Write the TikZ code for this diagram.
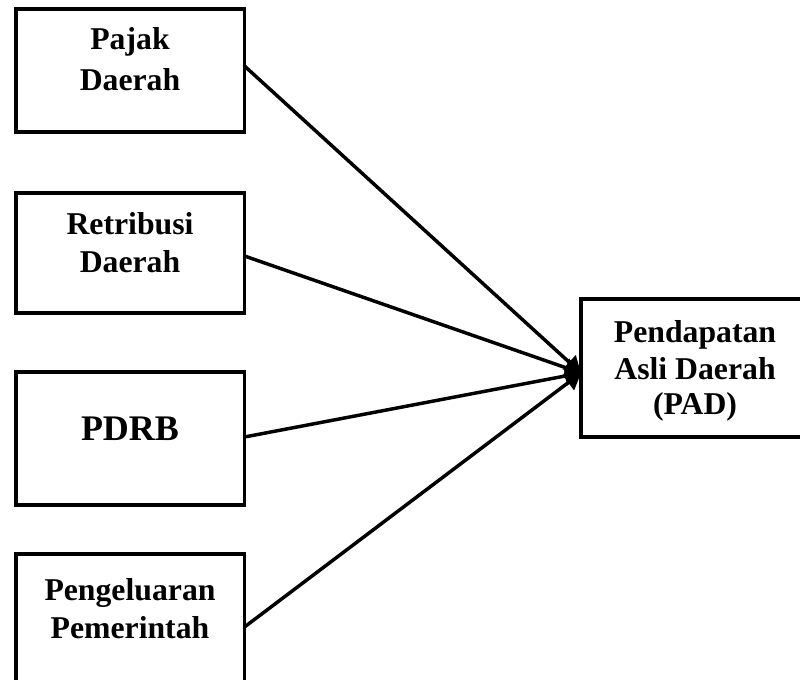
\documentclass[tikz,border=0pt]{standalone}
\usepackage{fontspec}
\setmainfont{Liberation Serif}
\usetikzlibrary{arrows.meta,calc}
\tikzset{
  box/.style={draw=black, line width=2.9pt, rectangle, inner sep=0pt, outer sep=0pt},
  lbl/.style={font=\bfseries\fontsize{23.8}{28}\selectfont, anchor=base, inner sep=0pt},
  big/.style={font=\bfseries\fontsize{27}{32}\selectfont, anchor=base, inner sep=0pt},
  link/.style={line width=2.6pt, -{Triangle[length=12pt,width=14pt]}}
}
\begin{document}
\begin{tikzpicture}[x=0.75pt,y=-0.75pt]
\useasboundingbox (0,0) rectangle (800,680);
% boxes
\node[box, minimum width={228.5*0.75pt}, minimum height={123*0.75pt}] (b1) at (130.25,70.5) {};
\node[box, minimum width={228.5*0.75pt}, minimum height={120*0.75pt}] (b2) at (130.25,253) {};
\node[box, minimum width={228.5*0.75pt}, minimum height={133*0.75pt}] (b3) at (130.25,438.5) {};
\node[box, minimum width={228.5*0.75pt}, minimum height={136*0.75pt}] (b4) at (130.25,622) {};
\node[box, minimum width={227*0.75pt}, minimum height={138*0.75pt}] (pad) at (694.5,368) {};
% texts
\node[lbl] (t1a) at (130,50) {Pajak};
\node[lbl] (t1b) at (130,90.5) {Daerah};
\node[lbl] (t2a) at (130,234.3) {Retribusi};
\node[lbl] (t2b) at (130,272.3) {Daerah};
\node[big] (t3) at (130,441) {PDRB};
\node[lbl] (t4a) at (130,600.5) {Pengeluaran};
\node[lbl] (t4b) at (130,638.3) {Pemerintah};
\node[lbl] (tpa) at (695,342.3) {Pendapatan};
\node[lbl] (tpb) at (695,380) {Asli Daerah};
\node[lbl] (tpc) at (695,414.5) {(PAD)};
% connectors
\coordinate (tip) at ($(pad.west)+(0,5)$);
\draw[link] ($(b1.east)+(0,-4.5)$) -- (tip);
\draw[link] ($(b2.east)+(0,3)$) -- (tip);
\draw[link] ($(b3.east)+(0,-1.5)$) -- (tip);
\draw[link] ($(b4.east)+(0,5)$) -- (tip);
\end{tikzpicture}
\end{document}
